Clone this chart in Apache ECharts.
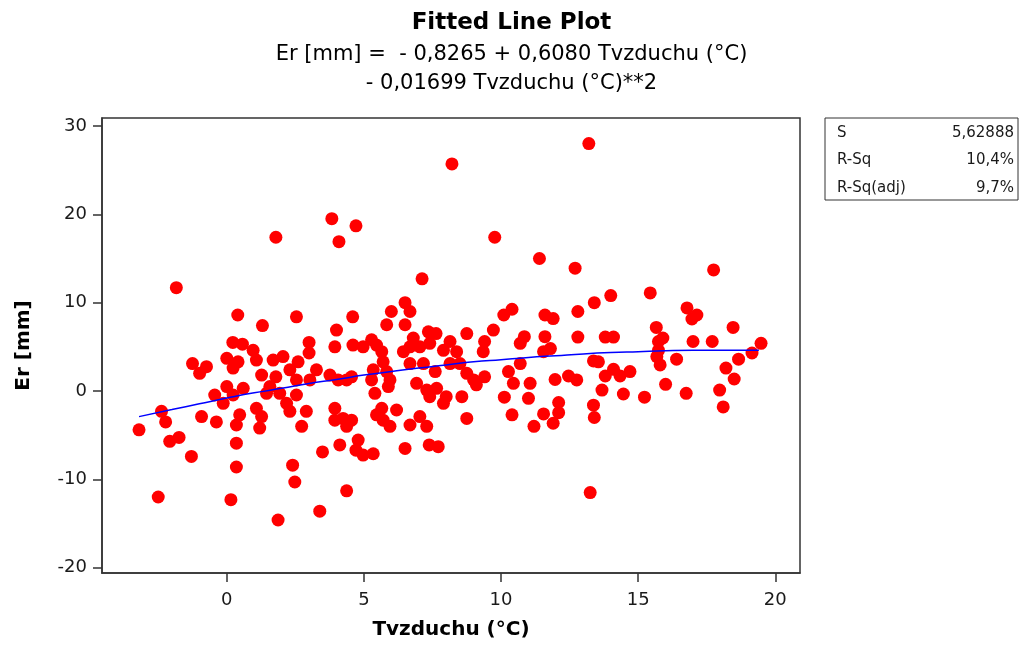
<!DOCTYPE html>
<html>
<head>
<meta charset="utf-8">
<title>Fitted Line Plot</title>
<script src="https://cdn.jsdelivr.net/npm/echarts@6/dist/echarts.min.js"></script>
<style>
  html, body { margin: 0; padding: 0; background: #fff; }
  #chart { width: 1023px; height: 645px; }
</style>
</head>
<body>
<div id="chart"></div>
<script>
// Tvzduchu (°C) values
const tempVals = [
  3.83, 1.79, 4.09, -1.84, 0.40, 1.30, 2.54, 4.00, 0.22, 0.57, 3.00,
  8.21, 4.71, 9.77, 11.4, 7.12, 6.50, 6.68, 6.00, 4.59, 5.83, 6.50, 8.75, 9.72, 10.1, 10.4, 11.6, 11.9, 7.35, 7.63, 10.85, 11.6,
  13.2, 12.7, 17.75, 15.44, 14.0, 13.4, 12.8, 16.78, 17.14, 16.96, 15.66, 18.46, 12.8, 13.8, 14.1, 15.74, 15.9, 17.0, 17.7, 19.48,
  3.00, 0.96, 0.00, 0.41, 1.08, 0.23, 1.27, -1.25, -0.74, -0.99, 1.69, 2.05, 2.60, 2.30, 1.79, 2.54, 3.27, 3.03, 3.76, 4.06, 4.37, 4.55,
  3.94, 4.60, 4.97, 5.28, 5.46, 5.65, 5.70, 5.34, 5.83, 5.95, 5.28, 5.89, 5.40, 6.44, 6.68, 6.80, 7.04, 7.40, 6.68, 7.17, 7.60,
  7.90, 8.14, 8.38, 8.14, 8.50, 8.75, 9.00, 9.10, 9.40, 9.35, 9.40, 6.92, 7.29, 7.65, 7.40, 8.00, 8.57, 7.90, 8.75, 7.04, 7.29,
  6.19, 5.65, 5.46, 5.70, 5.95, 3.94, 4.24, 4.55, 4.37, 2.90, 2.73, 2.54, 1.93, 2.18, 2.30, 1.57, 1.45, 1.08, 1.27, 0.60, 0.00,
  0.23, -0.44, -0.13, 0.47, 0.35, -0.92, -0.38, 1.20,
  10.7, 11.8, 11.55, 15.74, 15.68, 15.8, 19.15, 18.66, 18.2, 18.5, 17.97, 18.1, 16.4, 16.75, 16.0, 15.23, 14.46, 14.7, 14.34,
  14.1, 13.8, 13.37, 13.68, 13.37, 13.4, 12.76, 12.46, 11.97, 12.1, 12.1, 11.55, 11.9, 11.2, 11.0, 11.06, 10.45, 10.27, 10.7,
  10.12, 10.4,
  -3.2, -2.38, -2.23, -2.08, -1.74, -1.29, -2.5, 0.35, 0.35, 0.15, 2.40, 2.48, 1.87, 3.49, 3.39, 4.12, 3.94,
  4.37, 4.79, 4.71, 4.97, 5.34, 6.50, 7.38, 7.71, 6.68,
  13.25, 13.55
];
// Er [mm] values, same order
const erVals = [
  19.5, 17.4, 16.9, 11.7, 8.6, 7.4, 8.4, 6.9, 5.5, 5.3, 5.5,
  25.7, 18.7, 17.4, 15.0, 12.7, 10.0, 9.0, 9.0, 8.4, 7.5, 7.5, 6.5, 6.9, 8.6, 9.25, 8.6, 8.2, 6.7, 6.5, 6.15, 6.15,
  28.0, 13.9, 13.7, 11.1, 10.8, 10.0, 9.0, 9.4, 8.6, 8.15, 7.2, 7.2, 6.1, 6.1, 6.1, 5.6, 6.0, 5.6, 5.6, 5.4,
  4.3, 4.6, 3.7, 3.3, 3.5, 2.6, 1.8, 3.1, 2.75, 2.0, 3.5, 3.9, 3.3, 2.4, 1.6, 1.25, 2.4, 1.25, 1.8, 1.25, 1.25, 1.6,
  5.0, 5.2, 5.0, 5.8, 5.2, 4.45, 3.3, 2.4, 2.2, 1.25, 1.25, 0.5, -0.26, 4.45, 5.0, 6.0, 5.0, 5.4, 3.1, 3.1, 2.2,
  4.6, 5.6, 4.45, 3.1, 3.1, 2.0, 1.25, 0.7, 5.6, 4.45, 1.6, 0.87, 0.1, 0.3, -0.64, -0.64, -0.64, -1.4, -3.1, -2.9, -4.0,
  -2.15, -1.96, -2.7, -3.3, -4.0, -1.96, -3.1, -3.3, -4.0, -2.3, -4.0, -0.45, -0.26, -1.4, -2.3, 0.5, -0.26, -1.96, -2.9, 0.3, 0.5,
  -0.45, -0.45, -1.4, -2.7, -3.85, -2.9, -3.5, -4.2,
  5.4, 4.8, 4.45, 4.6, 3.9, 2.95, 4.3, 3.6, 2.6, 1.36, 0.1, -1.8, 3.6, -0.26, 0.76, -0.7, -0.34, 2.2, 1.7,
  2.45, 1.7, 3.4, 0.1, -1.6, -3.0, 1.25, 1.7, 1.3, -1.3, -2.45, -2.6, -3.65, -4.0, -0.83, 0.87, 0.87, 2.2, 3.1,
  -0.7, -2.7,
  -4.4, -2.3, -3.5, -5.7, -5.25, -7.4, -12.0, -5.9, -8.6, -12.3, -8.4, -10.3, -14.6, -6.9, -13.6, -6.1, -3.3,
  -11.3, -5.55, -6.7, -7.25, -7.1, -6.5, -6.1, -6.3, -3.85,
  -11.5, 3.3
];
// fitted curve
const fitX = [-3.2, -2, -1, 0, 1, 2, 3, 4, 5, 6, 7, 8, 9, 10, 11, 12, 13, 14, 15, 16, 17, 18, 19.4];
const fitY = [-2.9, -2.1, -1.45, -0.8, -0.2, 0.3, 0.85, 1.3, 1.8, 2.2, 2.6, 2.95, 3.3, 3.55, 3.8, 4.0, 4.2, 4.35, 4.45, 4.55, 4.6, 4.6, 4.6];

const xTicks = [0, 5, 10, 15, 20];
const yTicks = [-20, -10, 0, 10, 20, 30];

const statNames = ['S', 'R-Sq', 'R-Sq(adj)'];
const statValues = ['5,62888', '10,4%', '9,7%'];

const FONT = '"DejaVu Sans", Verdana, sans-serif';

const chart = echarts.init(document.getElementById('chart'));

const points = tempVals.map((t, i) => [t, erVals[i]]);
const fitLine = fitX.map((t, i) => [t, fitY[i]]);

// stats box in the upper right corner
const statGraphics = [{
  type: 'rect',
  shape: { x: 825, y: 118, width: 193, height: 82 },
  style: { fill: '#fff', stroke: '#333', lineWidth: 1 }
}];
statNames.forEach((n, i) => {
  const y = 133 + i * 27.5;
  statGraphics.push({
    type: 'text', x: 837, y: y,
    style: { text: n, font: '15px ' + FONT, fill: '#1a1a1a', textAlign: 'left', textVerticalAlign: 'middle' }
  });
  statGraphics.push({
    type: 'text', x: 1014, y: y,
    style: { text: statValues[i], font: '15px ' + FONT, fill: '#1a1a1a', textAlign: 'right', textVerticalAlign: 'middle' }
  });
});

const option = {
  backgroundColor: '#fff',
  animation: false,
  title: [
    {
      text: 'Fitted Line Plot', left: 'center', top: 12, padding: 0,
      textStyle: { fontFamily: FONT, fontWeight: 'bold', fontSize: 23, lineHeight: 23, color: '#000' }
    },
    {
      text: 'Er [mm] =  - 0,8265 + 0,6080 Tvzduchu (°C)', left: 'center', top: 44, padding: 0,
      textStyle: { fontFamily: FONT, fontWeight: 'normal', fontSize: 21, lineHeight: 21, color: '#000' }
    },
    {
      text: '- 0,01699 Tvzduchu (°C)**2', left: 'center', top: 73, padding: 0,
      textStyle: { fontFamily: FONT, fontWeight: 'normal', fontSize: 21, lineHeight: 21, color: '#000' }
    }
  ],
  grid: {
    left: 102, right: 223, top: 118, bottom: 72,
    show: true, borderColor: '#333', borderWidth: 1.5,
    outerBoundsMode: 'none'
  },
  xAxis: {
    type: 'value',
    min: -4.55, max: 20.9,
    name: 'Tvzduchu (°C)',
    nameLocation: 'middle',
    nameGap: 47,
    nameTextStyle: { fontFamily: FONT, fontWeight: 'bold', fontSize: 20, color: '#000' },
    axisLine: { show: true, onZero: false, lineStyle: { color: '#333', width: 1.5 } },
    axisTick: { show: true, inside: false, length: 9, customValues: xTicks, lineStyle: { color: '#333', width: 1.5 } },
    axisLabel: { customValues: xTicks, margin: 18, fontFamily: FONT, fontSize: 18, color: '#1a1a1a' },
    splitLine: { show: false }
  },
  yAxis: {
    type: 'value',
    min: -20.6, max: 30.9,
    name: 'Er [mm]',
    nameLocation: 'middle',
    nameGap: 68,
    nameTextStyle: { fontFamily: FONT, fontWeight: 'bold', fontSize: 20, color: '#000' },
    axisLine: { show: true, onZero: false, lineStyle: { color: '#333', width: 1.5 } },
    axisTick: { show: true, inside: false, length: 9, customValues: yTicks, lineStyle: { color: '#333', width: 1.5 } },
    axisLabel: { customValues: yTicks, margin: 15, fontFamily: FONT, fontSize: 18, color: '#1a1a1a' },
    splitLine: { show: false }
  },
  series: [
    {
      name: 'Er [mm]',
      type: 'scatter',
      data: points,
      symbol: 'circle',
      symbolSize: 13,
      itemStyle: { color: '#ff0000', opacity: 1 },
      z: 2
    },
    {
      name: 'Fit',
      type: 'line',
      data: fitLine,
      smooth: true,
      showSymbol: false,
      lineStyle: { color: '#0000ff', width: 1.5 },
      z: 3
    }
  ],
  graphic: statGraphics
};

chart.setOption(option);
</script>
</body>
</html>
